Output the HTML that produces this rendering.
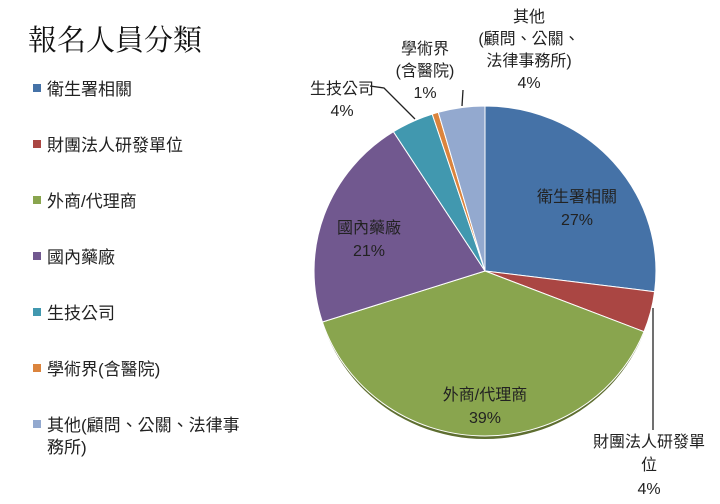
<!DOCTYPE html>
<html><head><meta charset="utf-8"><style>
body{margin:0;background:#fff;}
svg{display:block;}
text{font-family:"Liberation Sans","Noto Sans CJK TC",sans-serif;fill:#222;}
</style></head><body>
<svg width="720" height="504" viewBox="0 0 720 504" xmlns="http://www.w3.org/2000/svg">
<text x="28" y="50" style="font-family:'Liberation Serif','Noto Serif CJK SC',serif;font-size:29px;fill:#111">報名人員分類</text>
<g font-size="17">
<rect x="33" y="84" width="8" height="8" fill="#4572a7"/><text x="47" y="95">衛生署相關</text>
<rect x="33" y="140" width="8" height="8" fill="#aa4643"/><text x="47" y="151">財團法人研發單位</text>
<rect x="33" y="196" width="8" height="8" fill="#89a54e"/><text x="47" y="207">外商/代理商</text>
<rect x="33" y="252" width="8" height="8" fill="#71588f"/><text x="47" y="263">國內藥廠</text>
<rect x="33" y="308" width="8" height="8" fill="#4198af"/><text x="47" y="319">生技公司</text>
<rect x="33" y="364" width="8" height="8" fill="#db843d"/><text x="47" y="375">學術界(含醫院)</text>
<rect x="33" y="420" width="8" height="8" fill="#93a9cf"/><text x="47" y="431">其他(顧問、公關、法律事</text>
<text x="47" y="453">務所)</text>
</g>
<ellipse cx="485" cy="274" rx="170" ry="165" fill="#5e6e30"/>
<g stroke="#fff" stroke-width="1">
<path d="M485,271 L485,106 A171,165 0 0 1 654.6,291.7 Z" fill="#4572a7"/>
<path d="M485,271 L654.6,291.7 A171,165 0 0 1 644,331.7 Z" fill="#aa4643"/>
<path d="M485,271 L644,331.7 A171,165 0 0 1 322.4,322 Z" fill="#89a54e"/>
<path d="M485,271 L322.4,322 A171,165 0 0 1 393.4,131.7 Z" fill="#71588f"/>
<path d="M485,271 L393.4,131.7 A171,165 0 0 1 432.2,114.1 Z" fill="#4198af"/>
<path d="M485,271 L432.2,114.1 A171,165 0 0 1 438.3,112.3 Z" fill="#db843d"/>
<path d="M485,271 L438.3,112.3 A171,165 0 0 1 485,106 Z" fill="#93a9cf"/>
</g>
<g stroke="#222" stroke-width="1.3" fill="none">
<polyline points="370,86 384,88 415,119"/>
<line x1="463" y1="90" x2="462" y2="106"/>
<line x1="653" y1="308" x2="653" y2="430"/>
</g>
<g font-size="16" text-anchor="middle">
<text x="577" y="202">衛生署相關</text><text x="577" y="225">27%</text>
<text x="369" y="233">國內藥廠</text><text x="369" y="256">21%</text>
<text x="485" y="400">外商/代理商</text><text x="485" y="423">39%</text>
<text x="342" y="94">生技公司</text><text x="342" y="116">4%</text>
<text x="425" y="54">學術界</text><text x="425" y="76">(含醫院)</text><text x="425" y="98">1%</text>
<text x="529" y="22">其他</text><text x="529" y="44">(顧問、公關、</text><text x="529" y="66">法律事務所)</text><text x="529" y="88">4%</text>
<text x="649" y="447">財團法人研發單</text><text x="649" y="470">位</text><text x="649" y="494">4%</text>
</g>
</svg>
</body></html>
